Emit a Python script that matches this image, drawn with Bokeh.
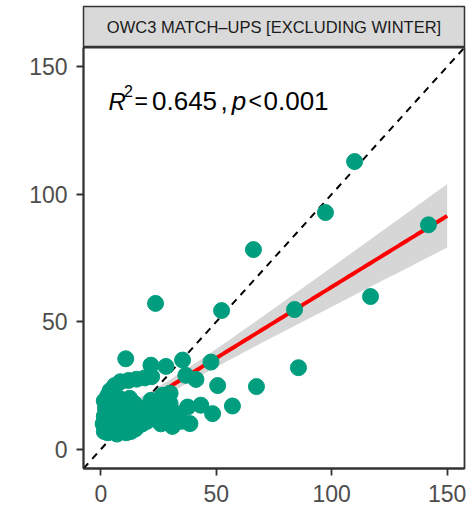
import numpy as np
from bokeh.plotting import figure
from bokeh.layouts import column
from bokeh.models import Range1d, Label, FixedTicker, ColumnDataSource
from bokeh.embed import file_html
from bokeh.resources import INLINE

# Match-up values: x = observed, y = predicted
x_vals = [
    1.5, 3, 5, 7, 9, 11, 13, 15,
    1, 3.5, 6, 8, 10, 12, 14, 16, 18,
    1.5, 4, 6.5, 9, 11, 13, 15, 17, 19,
    2, 4.5, 7, 9.5, 12, 14, 16, 18,
    1.5, 3, 5.5, 8, 10, 12.5, 14.5,
    4, 6, 8.5, 12, 15.5, 19, 22,
    20, 21, 23, 24, 26, 27, 29, 30, 31, 33, 35,
    30, 26.7, 21.7, 37.6, 43.3, 38.6, 48.4, 57, 50.6, 36.8, 41.2,
    10.8, 21.7, 28.2, 35.4, 47.7,
    23.7, 52.3, 66.1, 83.9, 85.6, 97.3, 109.9, 116.8, 141.9, 67.4,
]
y_vals = [
    7, 6.5, 7.5, 6, 7, 6.5, 7, 8,
    10, 9.5, 10.5, 9, 11, 9.5, 10, 9, 10,
    13, 12.5, 13.5, 12, 14, 12.5, 13, 12, 13.5,
    16, 15, 16.5, 15, 16, 15, 16.5, 15,
    19, 21, 19.5, 20, 18.5, 20, 18,
    23, 25, 26.5, 27, 27.5, 28, 28.5,
    11, 16, 13, 18, 10, 15, 12, 18, 9, 14, 11,
    22, 21.2, 19.2, 16.6, 17.3, 10.1, 14, 17, 25, 29, 27.4,
    35.5, 33, 32.5, 35, 34.2,
    57.2, 54.4, 78.3, 54.8, 32, 92.8, 112.8, 59.9, 88, 24.6,
]

axis_limits = [0, 150]
tick_values = [0, 50, 100, 150]
strip_title = "OWC3 MATCH\u2013UPS [EXCLUDING WINTER]"
r2_value = "0.645"
p_value = "0.001"

FONT = "Liberation Sans"
POINT_COLOR = "#009E7E"
INK = "#333333"

# Linear fit with 95% confidence band over the full axis range
x = np.array(x_vals, dtype=float)
y = np.array(y_vals, dtype=float)
n = len(x)
slope, intercept = np.polyfit(x, y, 1)
resid = y - (intercept + slope * x)
s = np.sqrt(np.sum(resid ** 2) / (n - 2))
xbar = x.mean()
sxx = np.sum((x - xbar) ** 2)
t_crit = 1.985
xs = np.linspace(axis_limits[0], axis_limits[1], 120)
fit = intercept + slope * xs
half = t_crit * s * np.sqrt(1.0 / n + (xs - xbar) ** 2 / sxx)
band = ColumnDataSource(dict(x=xs, fit=fit, lower=fit - half, upper=fit + half))

pad = 0.05 * (axis_limits[1] - axis_limits[0])
lo, hi = axis_limits[0] - pad, axis_limits[1] + pad

# Facet strip
strip = figure(width=472, height=47, x_range=Range1d(0, 1), y_range=Range1d(0, 1),
               x_axis_type=None, y_axis_type=None, output_backend="svg",
               toolbar_location=None, min_border_left=83, min_border_right=8,
               min_border_top=6, min_border_bottom=0)
strip.background_fill_color = "#D9D9D9"
strip.border_fill_color = "white"
strip.outline_line_color = INK
strip.outline_line_width = 1.5
strip.add_layout(Label(x=0.5, y=0.5, text=strip_title, text_align="center",
                       text_baseline="middle", text_font=FONT,
                       text_font_size="16.5px", text_color="#1A1A1A"))

# Main panel
p = figure(width=472, height=462, x_range=Range1d(lo, hi), y_range=Range1d(lo, hi),
           output_backend="svg", toolbar_location=None,
           min_border_left=83, min_border_right=8, min_border_top=0, min_border_bottom=41)
p.grid.visible = False
p.background_fill_color = "white"
p.border_fill_color = "white"
p.outline_line_color = INK
p.outline_line_width = 1.8

for ax in (p.xaxis[0], p.yaxis[0]):
    ax.ticker = FixedTicker(ticks=tick_values)
    ax.axis_line_color = INK
    ax.axis_line_width = 1.8
    ax.major_tick_line_color = INK
    ax.major_tick_line_width = 1.8
    ax.major_tick_out = 7
    ax.major_tick_in = 0
    ax.minor_tick_line_color = None
    ax.major_label_text_font = FONT
    ax.major_label_text_font_size = "23px"
    ax.major_label_text_color = "#4D4D4D"
p.xaxis.major_label_standoff = 9
p.yaxis.major_label_standoff = 9

p.varea(x="x", y1="lower", y2="upper", source=band, fill_color="#D6D6D6", fill_alpha=1.0)
p.line(x="x", y="fit", source=band, line_color="#FF0000", line_width=4)
p.line([lo, hi], [lo, hi], line_color="black", line_width=2, line_dash="7 6")
p.scatter(x_vals, y_vals, size=16, fill_color=POINT_COLOR, line_color=POINT_COLOR)

# Annotation: R^2 and p value (offsets in pixels from the x = 0 position)
base_y = 136.4
pieces = [
    ("R", 7.7, 0, "24px", "italic"),
    ("2", 23.2, 10, "16px", "normal"),
    ("=", 33.7, 0, "23px", "normal"),
    (r2_value, 51.2, 0, "26px", "normal"),
    (",", 119.7, 0, "26px", "normal"),
    ("p", 131.0, 0, "26px", "italic"),
    ("<", 147.7, 0, "23px", "normal"),
    (p_value, 162.7, 0, "26px", "normal"),
]
for txt, dx, dy, fs, style in pieces:
    p.add_layout(Label(x=axis_limits[0], y=base_y, x_offset=dx, y_offset=dy, text=txt,
                       text_align="left", text_baseline="alphabetic",
                       text_font=FONT, text_font_size=fs, text_font_style=style,
                       text_color="black"))

layout = column(strip, p, spacing=0)
open("out.html", "w").write(file_html(layout, INLINE))
